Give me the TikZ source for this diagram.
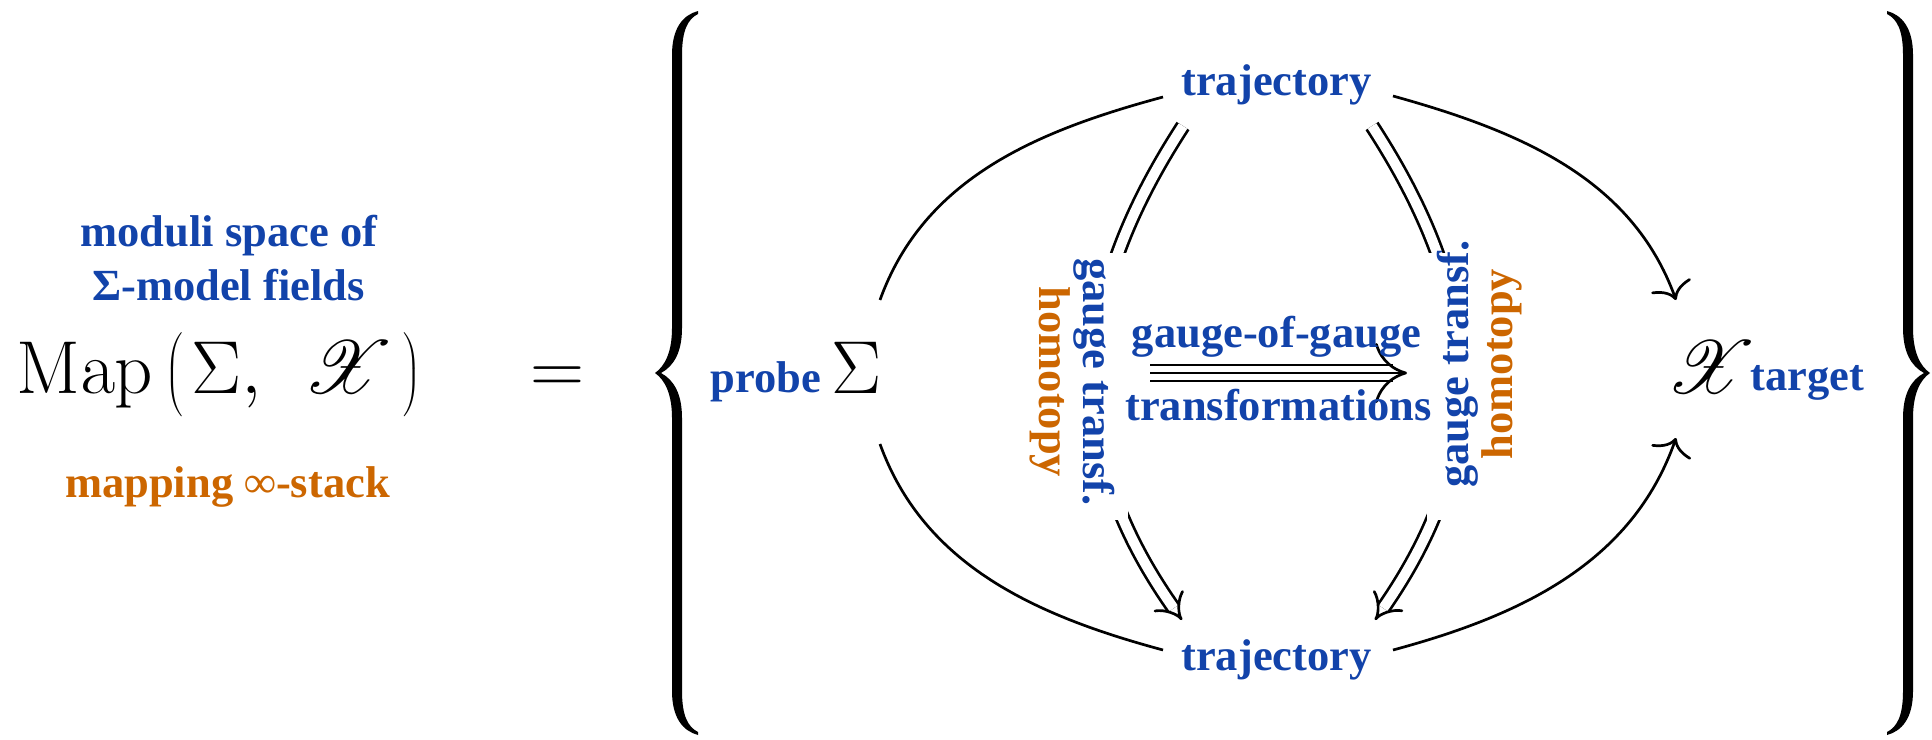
\RequirePackage{fix-cm}
\documentclass[tikz,border=0pt]{standalone}
\usepackage[no-math]{fontspec}
\usetikzlibrary{arrows.meta}
\newfontfamily\tf{Liberation Serif}
\font\scrX=rsfs10 at 37.5pt
\definecolor{cb}{HTML}{1243AA}
\definecolor{co}{HTML}{CC6600}
\tikzset{
  lb/.style={font=\tf\bfseries\fontsize{22.25pt}{22pt}\selectfont, text=cb, inner sep=0pt, anchor=base},
  lor/.style={font=\tf\bfseries\fontsize{22.25pt}{22pt}\selectfont, text=co, inner sep=0pt, anchor=base},
  mth/.style={font=\fontsize{37.5pt}{45pt}\selectfont, inner sep=0pt, anchor=base},
  cv/.style={line width=1.35pt},
  cva/.style={cv, -{Computer Modern Rightarrow[length=8pt,width=21pt]}},
  dbl/.style={line width=1.35pt, double distance=5pt, -{Implies[scale=1.4]}},
  rotlab/.style={inner sep=0pt, align=center,
    font=\tf\bfseries\fontsize{22.25pt}{22pt}\selectfont},
  mask/.style={fill=white, draw=none},
  bracefill/.style={fill=black, draw=none}
}
\begin{document}
\begin{tikzpicture}[x=0.5pt,y=-0.5pt]
\useasboundingbox (0,0) rectangle (1932,739);

% left block
\node[lb] (mod) at (229,246) {moduli space of};
\node[lb] (sigf) at (228.5,300) {Σ-model fields};
\node[mth] (map) at (219,393) {$\mathrm{Map}\left(\vrule height31.4pt depth12.6pt width0pt\mkern2mu\Sigma,\mkern7mu\mbox{\scrX X}\mkern7mu\right)$};
\node[lor] (mapst) at (227.5,497) {mapping ∞-stack};
\node[mth] (eq) at (557,393) {$=$};

% braces
\path[bracefill] (698,11) .. controls (683,15) and (672,28) .. (672,55)
  -- (672,328) .. controls (672,352) and (665,366) .. (655,373)
  .. controls (665,380) and (672,394) .. (672,418)
  -- (672,691) .. controls (672,718) and (683,731) .. (698,735)
  -- (698,732) .. controls (688,727) and (682,716) .. (682,691)
  -- (682,418) .. controls (682,394) and (674,380) .. (661,373)
  .. controls (674,366) and (682,352) .. (682,328)
  -- (682,55) .. controls (682,30) and (688,19) .. (698,14) -- cycle;
\begin{scope}[shift={(2585,0)}, xscale=-1]
\path[bracefill] (698,11) .. controls (683,15) and (672,28) .. (672,55)
  -- (672,328) .. controls (672,352) and (665,366) .. (655,373)
  .. controls (665,380) and (672,394) .. (672,418)
  -- (672,691) .. controls (672,718) and (683,731) .. (698,735)
  -- (698,732) .. controls (688,727) and (682,716) .. (682,691)
  -- (682,418) .. controls (682,394) and (674,380) .. (661,373)
  .. controls (674,366) and (682,352) .. (682,328)
  -- (682,55) .. controls (682,30) and (688,19) .. (698,14) -- cycle;
\end{scope}

% diagram nodes
\node[lb] (probe) at (766,392) {probe};
\node[mth] (sig) at (856.5,393) {$\Sigma$};
\node[lb] (t1) at (1276.5,95) {trajectory};
\node[lb] (t2) at (1276.5,670) {trajectory};
\node[mth] (X) at (1701.5,393) {\scrX X};
\node[lb] (target) at (1807.5,390) {target};

% outer curves
\draw[cv] ([shift={(23.5,-93)}]sig.base) .. controls (924,178) and (1037,131) .. ([shift={(-113.5,2)}]t1.base);
\draw[cv] ([shift={(23.5,51)}]sig.base) .. controls (924,566) and (1037,616) .. ([shift={(-113.5,-20)}]t2.base);
\draw[cva] ([shift={(116.5,1)}]t1.base) .. controls (1519,131) and (1632,178) .. ([shift={(-25.5,-93)}]X.base);
\draw[cva] ([shift={(116.5,-20)}]t2.base) .. controls (1519,616) and (1632,564) .. ([shift={(-25.5,45)}]X.base);

% double arrows
\draw[dbl] ([shift={(-93.5,31)}]t1.base) .. controls (1070,300) and (1062,450) .. ([shift={(-94.5,-50)}]t2.base);
\draw[dbl] ([shift={(95.5,31)}]t1.base) .. controls (1485,300) and (1493,450) .. ([shift={(98.5,-50)}]t2.base);
\path[mask] (1078,253) rectangle (1128,520);
\path[mask] (1427,253) rectangle (1477,520);
\node[rotlab, rotate=-90] (hl) at (1072.5,382) {\textcolor{cb}{gauge transf.}\\\textcolor{co}{homotopy}};
\node[rotlab, rotate=90] (hr) at (1479.5,364) {\textcolor{cb}{gauge transf.}\\\textcolor{co}{homotopy}};

% triple arrow
\coordinate (ta) at (1150,373);
\coordinate (tb) at (1407,373);
\draw[line width=1.35pt, double distance=6.65pt, shorten >=7pt] (ta) -- (tb);
\draw[line width=1.35pt, -{Computer Modern Rightarrow[length=16pt,width=30pt]}] (ta) -- (tb);
\node[lb] (gg) at (1276.5,347) {gauge-of-gauge};
\node[lb] (tr) at (1278.5,420) {transformations};
\end{tikzpicture}
\end{document}
